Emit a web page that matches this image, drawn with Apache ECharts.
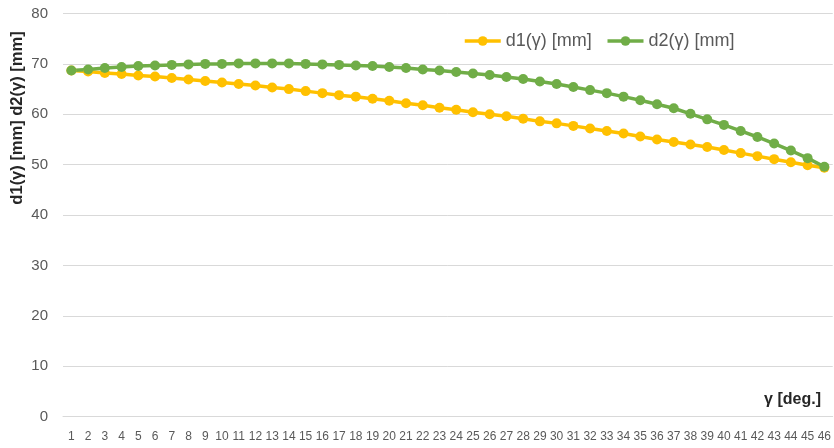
<!DOCTYPE html>
<html>
<head>
<meta charset="utf-8">
<script src="https://cdn.jsdelivr.net/npm/echarts@6/dist/echarts.min.js"></script>
<style>html,body{margin:0;padding:0;background:#fff}#c{width:834px;height:448px}</style>
</head>
<body>
<div id="c"></div>
<script>
var categories = [];
for (var k = 1; k <= 46; k++) categories.push(String(k));
var d1 = [68.7,68.5,68.2,68.0,67.7,67.5,67.2,66.9,66.6,66.3,66.0,65.7,65.3,65.0,64.6,64.2,63.8,63.5,63.1,62.7,62.2,61.8,61.3,60.9,60.4,60.0,59.6,59.1,58.6,58.2,57.7,57.2,56.7,56.2,55.6,55.0,54.5,54.0,53.5,52.9,52.3,51.7,51.1,50.5,49.9,49.4];
var d2 = [68.7,68.9,69.2,69.4,69.6,69.7,69.8,69.9,70.0,70.0,70.1,70.1,70.1,70.1,70.0,69.9,69.8,69.7,69.6,69.4,69.2,68.9,68.7,68.4,68.1,67.8,67.4,67.0,66.5,66.0,65.4,64.8,64.2,63.5,62.8,62.0,61.2,60.1,59.0,57.9,56.7,55.5,54.2,52.8,51.3,49.6];
var yTicks = {min: 0, max: 80, interval: 10};

var chart = echarts.init(document.getElementById('c'), null, {renderer: 'canvas'});
var font = "'Liberation Sans', Arial, sans-serif";
chart.setOption({
  animation: false,
  textStyle: {fontFamily: font},
  grid: {left: 63, right: 0, top: 13.5, bottom: 31.3, containLabel: false},
  legend: {
    top: 27, left: 458,
    itemWidth: 36, itemHeight: 12, itemGap: 14,
    lineStyle: {width: 3.5},
    textStyle: {fontSize: 18, color: '#595959', fontFamily: font},
    data: ['d1(γ) [mm]', 'd2(γ) [mm]']
  },
  xAxis: {
    type: 'category',
    data: categories,
    boundaryGap: true,
    axisLine: {show: true, lineStyle: {color: '#d9d9d9', width: 1}},
    axisTick: {show: false},
    axisLabel: {interval: 0, color: '#595959', fontSize: 12, margin: 14, fontFamily: font}
  },
  yAxis: {
    type: 'value',
    min: yTicks.min, max: yTicks.max, interval: yTicks.interval,
    axisLine: {show: false},
    axisTick: {show: false},
    splitLine: {lineStyle: {color: '#d9d9d9', width: 1}},
    axisLabel: {color: '#595959', fontSize: 15, margin: 15, fontFamily: font}
  },
  graphic: [
    {type: 'text', x: 17, y: 118, rotation: Math.PI / 2,
     style: {text: 'd1(γ) [mm] d2(γ) [mm]', font: "bold 16.5px " + font, fill: '#262626', align: 'center', verticalAlign: 'middle'}},
    {type: 'text', x: 821, y: 400,
     style: {text: 'γ [deg.]', font: "bold 16px " + font, fill: '#262626', align: 'right', verticalAlign: 'middle'}}
  ],
  series: [
    {name: 'd1(γ) [mm]', type: 'line', data: d1, symbol: 'circle', symbolSize: 10,
     itemStyle: {color: '#FFC000'}, lineStyle: {color: '#FFC000', width: 3.5}},
    {name: 'd2(γ) [mm]', type: 'line', data: d2, symbol: 'circle', symbolSize: 10,
     itemStyle: {color: '#70AD47'}, lineStyle: {color: '#70AD47', width: 3.5}}
  ]
});
</script>
</body>
</html>
